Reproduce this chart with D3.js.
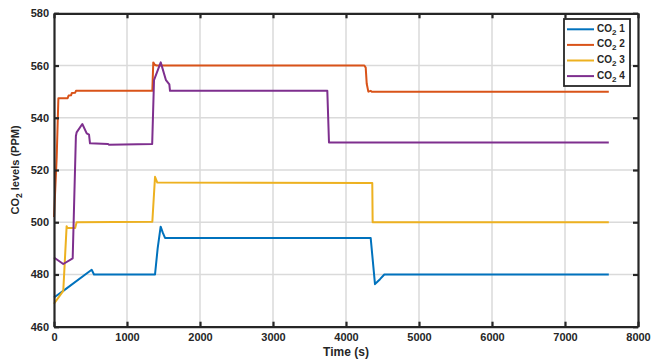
<!DOCTYPE html>
<html lang="en">
<head>
<meta charset="UTF-8">
<title>CO2 levels</title>
<script src="https://d3js.org/d3.v7.min.js"></script>
<style>
    body { margin: 0; background: #fff; }
    text { font-family: "Liberation Sans", Arial, sans-serif; font-weight: bold; fill: #262626; }
</style>
</head>
<body>
<div id="chart"></div>
<script>
// series data (time in s, CO2 in ppm)
const t1 = [0, 127, 516, 548, 1384, 1420, 1461, 1490, 1521, 4338, 4397, 4430, 4466, 4525, 7600];
const co2_1 = [471.2, 473.7, 481.8, 480, 480, 490, 498.3, 496, 494, 494, 476.3, 477.2, 478.2, 480, 480];

const t2 = [0, 37, 60, 187, 200, 233, 245, 290, 301, 1347, 1360, 1380, 1405, 4251, 4270, 4284, 4306, 4340, 4350, 7600];
const co2_2 = [502, 525, 547.5, 547.5, 548.5, 548.6, 549.5, 549.6, 550.3, 550.3, 561.2, 560.3, 560, 560, 559.2, 553, 550, 550.3, 550, 550];

const t3 = [0, 127, 173, 182, 290, 310, 1347, 1384, 1415, 4360, 4365, 7600];
const co2_3 = [468.8, 473.7, 498.5, 497.8, 497.8, 500, 500.2, 517.4, 515.2, 515, 500, 500];

const t4 = [0, 127, 256, 300, 310, 388, 448, 480, 493, 740, 750, 1345, 1370, 1462, 1534, 1580, 1589, 3744, 3767, 7600];
const co2_4 = [486.5, 484, 486.2, 533, 534.4, 537.6, 534, 533.5, 530.2, 530, 529.7, 530, 554.4, 561.2, 554.4, 552.8, 550.3, 550.3, 530.5, 530.5];

const seriesNames = ["1", "2", "3", "4"];
const xTicks = [0, 1000, 2000, 3000, 4000, 5000, 6000, 7000, 8000];
const yTicks = [460, 480, 500, 520, 540, 560, 580];

const series = [
    { name: seriesNames[0], t: t1, v: co2_1, color: "#0072BD" },
    { name: seriesNames[1], t: t2, v: co2_2, color: "#D95319" },
    { name: seriesNames[2], t: t3, v: co2_3, color: "#EDB120" },
    { name: seriesNames[3], t: t4, v: co2_4, color: "#7E2F8E" }
];

const width = 651, height = 360;
const plotL = 54, plotR = 638, plotT = 13.3, plotB = 326.7;

const svg = d3.select("#chart").append("svg")
    .attr("width", width)
    .attr("height", height);

const x = d3.scaleLinear().domain([0, 8000]).range([plotL, plotR]);
const y = d3.scaleLinear().domain([460, 580]).range([plotB, plotT]);

// grid
svg.append("g").selectAll("line")
    .data(xTicks.slice(1, -1))
    .join("line")
    .attr("x1", d => x(d)).attr("x2", d => x(d))
    .attr("y1", plotT).attr("y2", plotB)
    .attr("stroke", "#dadada").attr("stroke-width", 1.5);
svg.append("g").selectAll("line")
    .data(yTicks.slice(1, -1))
    .join("line")
    .attr("y1", d => y(d)).attr("y2", d => y(d))
    .attr("x1", plotL).attr("x2", plotR)
    .attr("stroke", "#dadada").attr("stroke-width", 1.5);

// lines
const line = d3.line()
    .x(d => x(d[0]))
    .y(d => y(d[1]));

svg.append("g").selectAll("path")
    .data(series)
    .join("path")
    .attr("d", s => line(s.t.map((tt, i) => [tt, s.v[i]])))
    .attr("fill", "none")
    .attr("stroke", s => s.color)
    .attr("stroke-width", 2)
    .attr("stroke-linejoin", "round");

// axes (inward ticks, box)
const xAxis = d3.axisBottom(x).tickValues(xTicks).tickFormat(d3.format("d"))
    .tickSizeInner(-5).tickSizeOuter(0).tickPadding(7);
const yAxis = d3.axisLeft(y).tickValues(yTicks).tickFormat(d3.format("d"))
    .tickSizeInner(-5).tickSizeOuter(0).tickPadding(5);

svg.append("g").attr("transform", `translate(0,${plotB})`).call(xAxis);
svg.append("g").attr("transform", `translate(${plotL},0)`).call(yAxis);
svg.append("g").attr("transform", `translate(0,${plotT})`)
    .call(d3.axisTop(x).tickValues(xTicks).tickSizeInner(-5).tickSizeOuter(0).tickFormat(""));
svg.append("g").attr("transform", `translate(${plotR},0)`)
    .call(d3.axisRight(y).tickValues(yTicks).tickSizeInner(-5).tickSizeOuter(0).tickFormat(""));

svg.selectAll(".domain").attr("stroke", "#262626").attr("stroke-width", 2.2);
svg.selectAll(".tick line").attr("stroke", "#262626").attr("stroke-width", 2.2);
svg.selectAll(".tick text").style("font-size", "11px").attr("fill", "#262626");

// axis titles
svg.append("text")
    .attr("x", (plotL + plotR) / 2)
    .attr("y", 356)
    .attr("text-anchor", "middle")
    .style("font-size", "12px")
    .text("Time (s)");

const yl = svg.append("text")
    .attr("transform", `translate(19,${(plotT + plotB) / 2}) rotate(-90)`)
    .attr("text-anchor", "middle")
    .style("font-size", "11px");
yl.append("tspan").text("CO");
yl.append("tspan").attr("dy", 3).style("font-size", "8.5px").text("2");
yl.append("tspan").attr("dy", -3).text(" levels (PPM)");

// legend
const lg = svg.append("g");
lg.append("rect")
    .attr("x", 564).attr("y", 19)
    .attr("width", 66).attr("height", 67)
    .attr("fill", "#fff")
    .attr("stroke", "#262626").attr("stroke-width", 1.8);

const rows = lg.selectAll("g.row")
    .data(series)
    .join("g")
    .attr("class", "row")
    .attr("transform", (d, i) => `translate(0,${29.3 + i * 15.6})`);
rows.append("line")
    .attr("x1", 567).attr("x2", 594)
    .attr("stroke", d => d.color).attr("stroke-width", 2);
const lt = rows.append("text")
    .attr("x", 597).attr("y", 2.5)
    .style("font-size", "10px");
lt.append("tspan").text("CO");
lt.append("tspan").attr("dy", 3).style("font-size", "8px").text("2");
lt.append("tspan").attr("dy", -3).text(d => " " + d.name);
</script>
</body>
</html>
